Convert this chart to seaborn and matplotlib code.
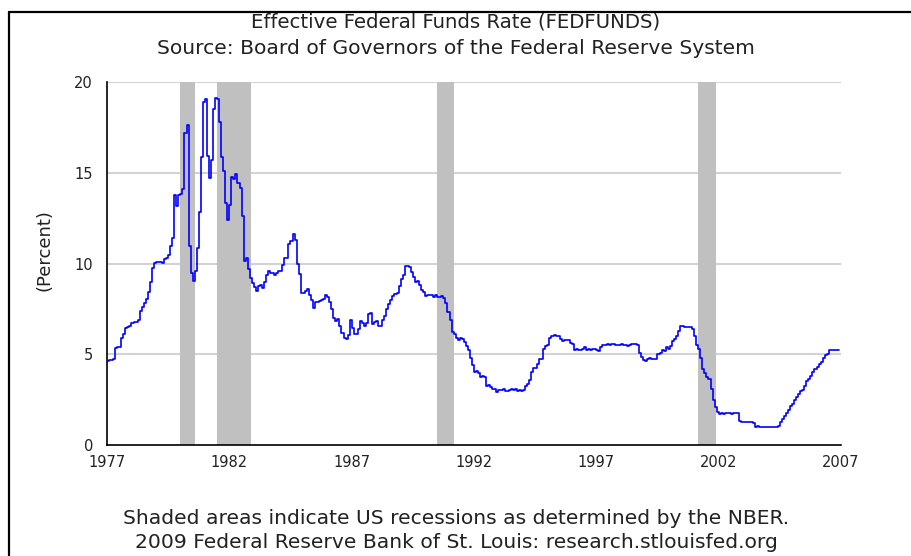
import numpy as np
import pandas as pd
import matplotlib
matplotlib.use("Agg")
import matplotlib.pyplot as plt
from matplotlib.lines import Line2D
import seaborn as sns

# monthly effective fed funds rate (percent)
rates_1977_1986 = [
    4.61, 4.68, 4.69, 4.73, 5.35, 5.39, 5.42, 5.90, 6.14, 6.47, 6.51, 6.56,
    6.70, 6.78, 6.79, 6.89, 7.36, 7.60, 7.81, 8.04, 8.45, 8.96, 9.76, 10.03,
    10.07, 10.06, 10.09, 10.01, 10.24, 10.29, 10.47, 10.94, 11.43, 13.77, 13.18, 13.78,
    13.82, 14.13, 17.19, 17.61, 10.98, 9.47, 9.03, 9.61, 10.87, 12.81, 15.85, 18.90,
    19.08, 15.93, 14.70, 15.72, 18.52, 19.10, 19.04, 17.82, 15.87, 15.08, 13.31, 12.37,
    13.22, 14.78, 14.68, 14.94, 14.45, 14.15, 12.59, 10.12, 10.31, 9.71, 9.20, 8.95,
    8.68, 8.51, 8.77, 8.80, 8.63, 8.98, 9.37, 9.56, 9.45, 9.48, 9.34, 9.47,
    9.56, 9.59, 9.91, 10.29, 10.32, 11.06, 11.23, 11.64, 11.30, 9.99, 9.43, 8.38,
    8.35, 8.50, 8.58, 8.27, 7.97, 7.53, 7.88, 7.90, 7.92, 7.99, 8.05, 8.27,
    8.14, 7.86, 7.48, 6.99, 6.85, 6.92, 6.56, 6.17, 5.89, 5.85, 6.04, 6.91,
]
rates_1987_1996 = [
    6.43, 6.10, 6.13, 6.37, 6.85, 6.73, 6.58, 6.73, 7.22, 7.29, 6.69, 6.77,
    6.83, 6.58, 6.58, 6.87, 7.09, 7.51, 7.75, 8.01, 8.19, 8.30, 8.35, 8.76,
    9.12, 9.36, 9.85, 9.84, 9.81, 9.53, 9.24, 8.99, 9.02, 8.84, 8.55, 8.45,
    8.23, 8.24, 8.28, 8.26, 8.18, 8.29, 8.15, 8.13, 8.20, 8.11, 7.81, 7.31,
    6.91, 6.25, 6.12, 5.91, 5.78, 5.90, 5.82, 5.66, 5.45, 5.21, 4.81, 4.43,
    4.03, 4.06, 3.98, 3.73, 3.82, 3.76, 3.25, 3.30, 3.22, 3.10, 3.09, 2.92,
    3.02, 3.03, 3.07, 2.96, 3.00, 3.04, 3.06, 3.03, 3.09, 2.99, 3.02, 2.96,
    3.05, 3.25, 3.34, 3.56, 4.01, 4.25, 4.26, 4.47, 4.73, 4.76, 5.29, 5.45,
    5.53, 5.92, 5.98, 6.05, 6.01, 6.00, 5.85, 5.74, 5.80, 5.76, 5.80, 5.60,
    5.56, 5.22, 5.31, 5.22, 5.24, 5.27, 5.40, 5.22, 5.30, 5.24, 5.31, 5.29,
]
rates_1997_2006 = [
    5.25, 5.19, 5.39, 5.51, 5.50, 5.56, 5.52, 5.54, 5.54, 5.50, 5.52, 5.50,
    5.56, 5.51, 5.49, 5.45, 5.49, 5.56, 5.54, 5.55, 5.51, 5.07, 4.83, 4.68,
    4.63, 4.76, 4.81, 4.74, 4.74, 4.76, 4.99, 5.07, 5.22, 5.20, 5.42, 5.30,
    5.45, 5.73, 5.85, 6.02, 6.27, 6.53, 6.54, 6.50, 6.52, 6.51, 6.51, 6.40,
    5.98, 5.49, 5.31, 4.80, 4.21, 3.97, 3.77, 3.65, 3.07, 2.49, 2.09, 1.82,
    1.73, 1.74, 1.73, 1.75, 1.75, 1.75, 1.73, 1.74, 1.75, 1.75, 1.34, 1.24,
    1.24, 1.26, 1.25, 1.26, 1.26, 1.22, 1.01, 1.03, 1.01, 1.01, 1.00, 0.98,
    1.00, 1.01, 1.00, 1.00, 1.00, 1.03, 1.26, 1.43, 1.61, 1.76, 1.93, 2.16,
    2.28, 2.50, 2.63, 2.79, 3.00, 3.04, 3.26, 3.50, 3.62, 3.78, 4.00, 4.16,
    4.29, 4.49, 4.59, 4.79, 4.94, 4.99, 5.24, 5.25, 5.25, 5.25, 5.25, 5.24,
]

# NBER recessions (start, end) as decimal years
recession_starts = [1980.0, 1981.5, 1990.5, 2001.17]
recession_ends = [1980.58, 1982.9, 1991.2, 2001.9]

x_ticks = [1977, 1982, 1987, 1992, 1997, 2002, 2007]
y_ticks = [0, 5, 10, 15, 20]

rates = rates_1977_1986 + rates_1987_1996 + rates_1997_2006
df = pd.DataFrame({
    "year": 1977 + np.arange(len(rates)) / 12.0,
    "rate": rates,
})

sns.set_style("white")
plt.rcParams["font.family"] = ["DejaVu Sans"]

fig = plt.figure(figsize=(9.12, 5.56), dpi=100)
ax = fig.add_axes([107 / 912, 1 - 445 / 556, 734 / 912, 363 / 556])

for s, e in zip(recession_starts, recession_ends):
    ax.axvspan(s, e, color="#c0c0c0", lw=0, zorder=1)

for yv in y_ticks[1:]:
    ax.axhline(yv, color="#d3d3d3", lw=1.5, zorder=0.5)

sns.lineplot(data=df, x="year", y="rate", ax=ax, color="#0000ff", lw=1.2,
             drawstyle="steps-post", zorder=3)

ax.set_xlim(1977, 2007)
ax.set_ylim(0, 20)
ax.set_xticks(x_ticks)
ax.set_yticks(y_ticks)
ax.tick_params(axis="both", direction="in", length=6, width=1.2, colors="black",
               labelsize=10.5, labelcolor="#222222")
ax.tick_params(axis="x", pad=7)
ax.tick_params(axis="y", pad=10)
ax.set_xlabel("")
ax.set_ylabel("")
for side in ["top", "right"]:
    ax.spines[side].set_visible(False)
for side in ["left", "bottom"]:
    ax.spines[side].set_color("black")
    ax.spines[side].set_linewidth(1.2)

fig.text(45 / 912, 1 - 250 / 556, "(Percent)", rotation=90, ha="center", va="center",
         fontsize=13, color="#222222")

fig.text(0.5, 1 - 22 / 556, "Effective Federal Funds Rate (FEDFUNDS)",
         ha="center", va="center", fontsize=14.2, color="#222222")
fig.text(0.5, 1 - 48 / 556, "Source: Board of Governors of the Federal Reserve System",
         ha="center", va="center", fontsize=14.6, color="#222222")
fig.text(0.5, 1 - 518 / 556, "Shaded areas indicate US recessions as determined by the NBER.",
         ha="center", va="center", fontsize=14.6, color="#222222")
fig.text(0.5, 1 - 543 / 556, "2009 Federal Reserve Bank of St. Louis: research.stlouisfed.org",
         ha="center", va="center", fontsize=14.6, color="#222222")

# outer frame (only top and left edges visible)
fig.add_artist(Line2D([9 / 912, 1.0], [1 - 12 / 556, 1 - 12 / 556], color="black", lw=1.6))
fig.add_artist(Line2D([9 / 912, 9 / 912], [0.0, 1 - 12 / 556], color="black", lw=1.6))

fig.savefig("out.png", dpi=100)
